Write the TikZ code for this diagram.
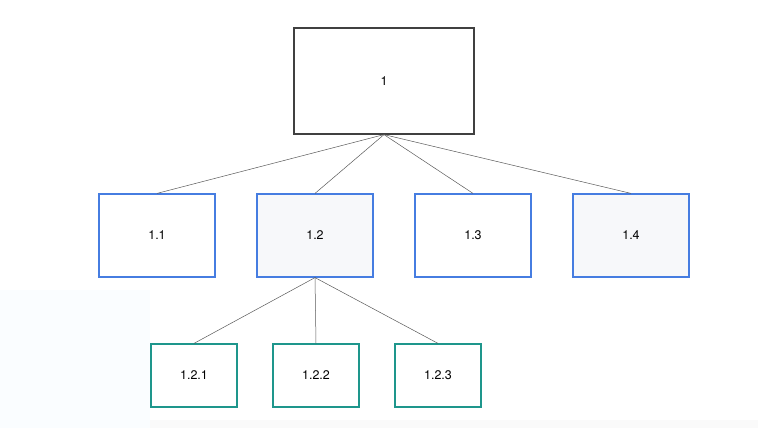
\documentclass[tikz,border=0pt]{standalone}
\usepackage{fontspec}
\setmainfont{TeX Gyre Heros}
\definecolor{bl}{RGB}{70,125,225}
\definecolor{tl}{RGB}{30,150,140}
\definecolor{fg}{RGB}{247,248,250}
\begin{document}
\begin{tikzpicture}[x=1pt,y=-1pt,
 box/.style={draw=bl,line width=1.2pt,minimum width=116pt,minimum height=83pt,font=\fontsize{12.5}{14}\selectfont},
 sub/.style={draw=tl,line width=1.2pt,minimum width=86pt,minimum height=63pt,font=\fontsize{12.5}{14}\selectfont},
 ln/.style={draw=black!65,line width=0.5pt}]
\useasboundingbox (0,0) rectangle (758,428);
\fill[cyan!2] (0,290) rectangle (150,428);
\fill[black!2] (150,420) rectangle (758,428);
\node[draw=black!75,line width=1.2pt,minimum width=180pt,minimum height=106pt,font=\fontsize{12.5}{14}\selectfont] (r) at (384,81) {1};
\node[box] (a) at (157,235.5) {1.1};
\node[box,fill=fg] (b) at (315,235.5) {1.2};
\node[box] (c) at (473,235.5) {1.3};
\node[box,fill=fg] (d) at (631,235.5) {1.4};
\node[sub] (b1) at (194,375.5) {1.2.1};
\node[sub] (b2) at (316,375.5) {1.2.2};
\node[sub] (b3) at (438,375.5) {1.2.3};
\foreach \n in {a,b,c,d} \draw[ln] (r.south) -- (\n.north);
\foreach \n in {b1,b2,b3} \draw[ln] (b.south) -- (\n.north);
\end{tikzpicture}
\end{document}
